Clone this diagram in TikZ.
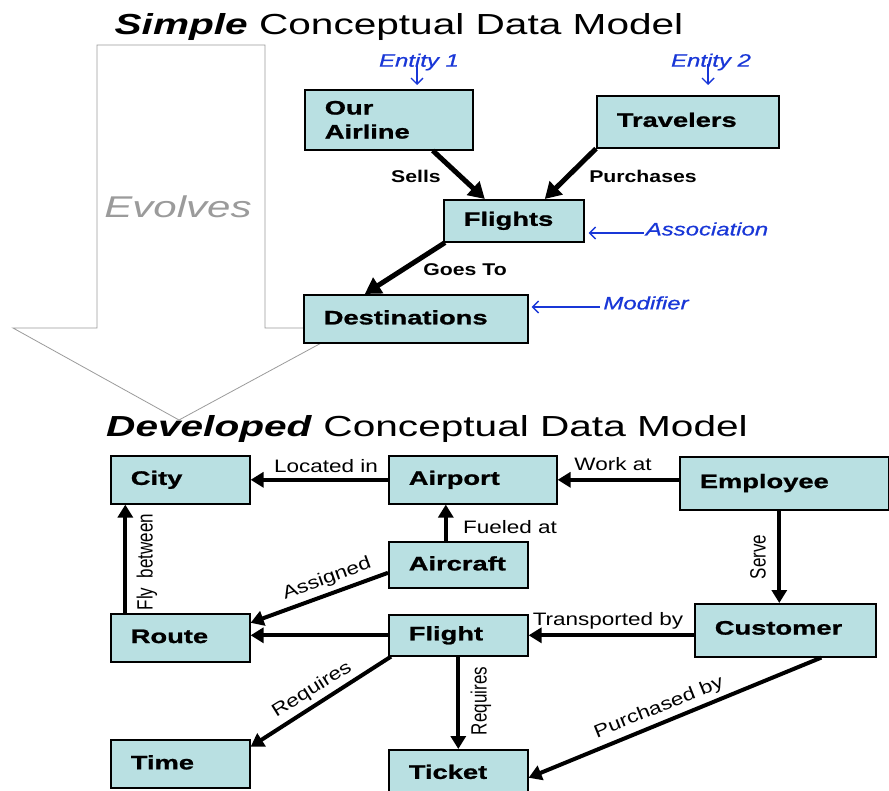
\documentclass[tikz,border=0pt]{standalone}
\usepackage{fontspec}
\setmainfont{Liberation Sans}[FakeStretch=1.4]
\newfontfamily\vfont{Liberation Sans}
\newfontfamily\lblfont{Liberation Sans}[FakeStretch=1.25]
\newfontfamily\boxfont{Liberation Sans}[FakeStretch=1.4,FakeBold=1.2]
\newfontfamily\annfont{Liberation Sans}[FakeStretch=1.33,FakeBold=0.8]
\usetikzlibrary{arrows.meta,calc}
\definecolor{boxc}{RGB}{185,224,226}
\definecolor{annot}{RGB}{25,55,215}
\definecolor{evg}{RGB}{155,155,155}
\begin{document}
\begin{tikzpicture}[x=1pt,y=-1pt,
 ebox/.style={draw,line width=1.6pt,fill=boxc,anchor=north west,align=left,inner xsep=20pt,inner ysep=0pt,font=\boxfont\bfseries\fontsize{19.5}{24}\selectfont},
 toparrow/.style={line width=5pt,-{Triangle[length=16pt,width=18pt]}},
 botarrow/.style={line width=4pt,-{Triangle[length=13pt,width=15pt]}},
 annarrow/.style={annot,line width=1.4pt,-{Straight Barb[length=6pt,width=12pt]}},
 toplbl/.style={font=\lblfont\bfseries\fontsize{17}{20}\selectfont,inner sep=0pt},
 botlbl/.style={font=\lblfont\fontsize{18}{21}\selectfont,inner sep=0pt},
 dlbl/.style={font=\vfont\fontsize{18}{21}\selectfont,inner sep=0pt},
 vlbl/.style={font=\vfont\fontsize{17}{20}\selectfont,inner sep=0pt,rotate=90},
 annlbl/.style={annot,font=\annfont\itshape\fontsize{18}{21}\selectfont,inner sep=0pt},
 titlestyle/.style={font=\fontsize{29}{34}\selectfont,anchor=base,inner sep=0pt}]
\useasboundingbox (0,0) rectangle (889,791);
\clip (0,0) rectangle (889,791);

% Evolves arrow
\draw[evg,line width=0.8pt,fill=white] (97,45) -- (265,45) -- (265,328) -- (349,328) -- (179,420) -- (13,328) -- (97,328) -- cycle;
\node[font=\itshape\fontsize{30}{34}\selectfont,text=evg] (evo) at (178,207) {Evolves};

% titles
\node[titlestyle] (t1) at (399,35) {\textbf{\textit{Simple}} Conceptual Data Model};
\node[titlestyle] (t2) at (427,437) {\textbf{\textit{Developed}} Conceptual Data Model};

% simple model boxes
\node[ebox,text width=128pt,minimum height=60pt] (air) at (304,89) {\raisebox{-4.5pt}{Our}\\\raisebox{-4.5pt}{Airline}};
\node[ebox,text width=142pt,minimum height=52pt] (trav) at (596,95) {\raisebox{4pt}{Travelers}};
\node[ebox,text width=100pt,minimum height=42pt] (flights) at (443,199) {Flights};
\node[ebox,text width=184pt,minimum height=48pt] (dest) at (303,294) {\raisebox{3pt}{Destinations}};

% simple connectors
\draw[toparrow] ($(air.south)+(44,0)$) -- ($(flights.north)+(-29,0)$);
\draw[toparrow] (trav.south west) -- ($(flights.north)+(31,0)$);
\draw[toparrow] ($(flights.south west)+(2,0)$) -- ($(dest.north)+(-51,0)$);
\node[toplbl] (lsells) at (416,176) {Sells};
\node[toplbl] (lpurch) at (643,176) {Purchases};
\node[toplbl] (lgoes) at (465,270) {Goes To};

% annotations
\node[annlbl] (ent1) at (419,62) {Entity 1};
\node[annlbl] (ent2) at (711,62) {Entity 2};
\node[annlbl] (assoc) at (707,229) {Association};
\node[annlbl] (modif) at (646,303) {Modifier};
\draw[annarrow] ($(ent1.center)+(-2,2)$) -- ($(ent1.center |- air.north)+(-2,-4)$);
\draw[annarrow] ($(ent2.center)+(-3,2)$) -- ($(ent2.center |- trav.north)+(-3,-10)$);
\draw[annarrow] ($(assoc.west)+(-2,4)$) -- ($(assoc.west -| flights.east)+(4,4)$);
\draw[annarrow] ($(modif.west)+(-3,4)$) -- ($(modif.west -| dest.east)+(3,4)$);

% developed model boxes
\node[ebox,text width=99pt,minimum height=48pt] (city) at (110,455) {\raisebox{1.5pt}{City}};
\node[ebox,text width=128pt,minimum height=48pt] (airport) at (388,455) {\raisebox{1.5pt}{Airport}};
\node[ebox,text width=169pt,minimum height=53pt] (emp) at (679,456) {\raisebox{4.5pt}{Employee}};
\node[ebox,text width=99pt,minimum height=46pt] (aircraft) at (388,541) {\raisebox{3pt}{Aircraft}};
\node[ebox,text width=99pt,minimum height=48pt] (route) at (110,613) {\raisebox{3pt}{Route}};
\node[ebox,text width=99pt,minimum height=41pt] (flight) at (388,614) {Flight};
\node[ebox,text width=141pt,minimum height=53pt] (cust) at (694,603) {\raisebox{5pt}{Customer}};
\node[ebox,text width=99pt,minimum height=48pt] (time) at (110,739) {\raisebox{3pt}{Time}};
\node[ebox,text width=99pt,minimum height=46pt] (ticket) at (388,749) {\raisebox{2pt}{Ticket}};

% developed connectors
\draw[botarrow] (airport.west) -- (city.east);
\draw[botarrow] (emp.west |- airport.east) -- (airport.east);
\draw[botarrow] ($(aircraft.north)+(-12.5,0)$) -- ($(aircraft.north |- airport.south)+(-12.5,0)$);
\draw[botarrow] ($(route.north)+(-55,0)$) -- ($(route.north |- city.south)+(-55,0)$);
\draw[botarrow] ($(aircraft.west)+(0,8)$) -- ($(route.east)+(0,-15)$);
\draw[botarrow] (flight.west) -- (flight.west -| route.east);
\draw[botarrow] (cust.west |- flight.east) -- (flight.east);
\draw[botarrow] ($(emp.south)+(-5,0)$) -- ($(emp.south |- cust.north)+(-5,0)$);
\draw[botarrow] ($(flight.south west)+(3,0)$) -- ($(time.east)+(0,-17)$);
\draw[botarrow] (flight.south) -- (flight.south |- ticket.north);
\draw[botarrow] ($(cust.south)+(36,0)$) -- ($(ticket.east)+(0,5)$);

% developed labels
\node[botlbl] (lloc) at (326,466) {Located in};
\node[botlbl] (lwork) at (613,464) {Work at};
\node[botlbl] (lfuel) at (510,527) {Fueled at};
\node[botlbl] (ltrans) at (608,621) {Transported by};
\node[vlbl] (lfly) at (147,562) {\scalebox{1}[1.3]{Fly~~between}};
\node[vlbl] (lserve) at (758,557) {\scalebox{1}[1.3]{Serve}};
\node[vlbl] (lreq2) at (481,701) {\scalebox{1}[1.3]{Requires}};
\node[dlbl,rotate=20] (lass) at (327,579) {\scalebox{1.25}[1]{Assigned}};
\node[dlbl,rotate=32] (lreq1) at (312,690) {\scalebox{1.25}[1]{Requires}};
\node[dlbl,rotate=22] (lpur) at (659,708) {\scalebox{1.25}[1]{Purchased by}};
\end{tikzpicture}
\end{document}
